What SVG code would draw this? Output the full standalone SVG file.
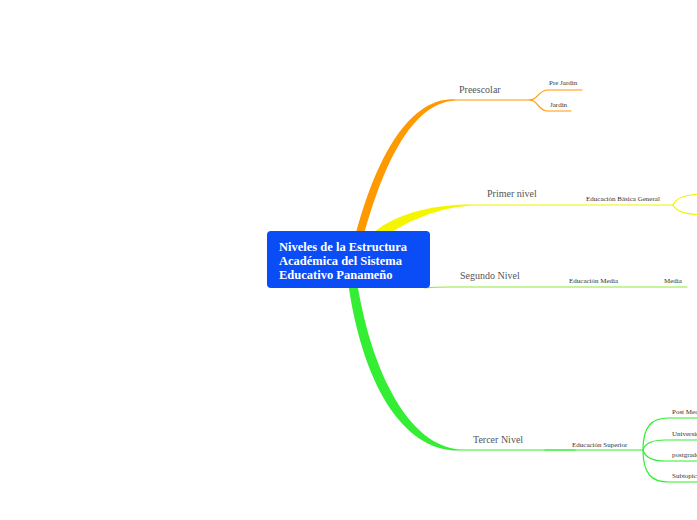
<svg xmlns="http://www.w3.org/2000/svg" width="697" height="520" viewBox="0 0 697 520">
<style>
.lvl{font-family:"Liberation Serif","Times New Roman",serif;font-size:10px;fill:#555}
.sub{font-family:"Liberation Serif","Times New Roman",serif;font-size:7px;fill:#333}
.ln{fill:none;stroke-width:1.2;stroke-linecap:round}
.o{stroke:#ff9a00}.y{stroke:#f2f200}.lg{stroke:#8fe83a}.g{stroke:#33ee33}
.ctr{font-family:"Liberation Serif","Times New Roman",serif;font-size:12.5px;font-weight:bold;fill:#fff}
</style>
<rect width="697" height="520" fill="#fff"/>
<g id="connectors">
  <path d="M349,262 C371,162 408,97 455,99.4 L455,100.6 C412,103 380,165 357,262 Z" fill="#ff9900"/>
  <path class="ln o" d="M455,100 H530"/>
  <path class="ln o" d="M530,100 C538,100 538,90 548,90 H582"/>
  <path class="ln o" d="M530,100 C538,100 538,111 548,111 H571"/>
  <path d="M378,242 C405,221 440,206.4 476,205.6 L476,204.4 C438,204 400,211 374,232 Z" fill="#f5f500"/>
  <path class="ln y" d="M476,205 H673"/>
  <path class="ln y" d="M673,205 C676,198 685,195 697,194.5"/>
  <path class="ln y" d="M673,205 C676,211 685,214 697,214.5"/>
  <path class="ln lg" d="M425,288 C435,287 440,287 450,287 H687"/>
  <path d="M348,282 C362,382 402,452 460,450.6 L460,449.4 C410,446 372,375 357,282 Z" fill="#33ee33"/>
  <path class="ln g" d="M460,450 H643"/>
  <path class="ln g" d="M545,450 H575" stroke-width="2.5"/>
  <path class="ln g" d="M643,450 C643,426 652,418 668,418 H697"/>
  <path class="ln g" d="M643,450 C645,443 652,440 665,440 H697"/>
  <path class="ln g" d="M643,450 C645,457 652,461 665,461 H697"/>
  <path class="ln g" d="M643,450 C643,474 652,482 668,482 H697"/>
</g>
<g id="center">
  <rect x="267" y="231" width="163" height="57" rx="4" fill="#0a4cf5"/>
  <text class="ctr" x="279" y="251">Niveles de la Estructura</text>
  <text class="ctr" x="279" y="265">Académica del Sistema</text>
  <text class="ctr" x="279" y="279">Educativo Panameño</text>
</g>
<g id="preescolar"><text class="lvl" x="459" y="93">Preescolar</text></g>
<g id="pre-jardin"><text class="sub" x="549" y="85">Pre Jardin</text></g>
<g id="jardin"><text class="sub" x="550" y="107">Jardin</text></g>
<g id="primer-nivel"><text class="lvl" x="487" y="197">Primer nivel</text></g>
<g id="educacion-basica"><text class="sub" x="586" y="201">Educación Básica General</text></g>
<g id="segundo-nivel"><text class="lvl" x="460" y="279">Segundo Nivel</text></g>
<g id="educacion-media"><text class="sub" x="569" y="283">Educación Media</text></g>
<g id="media"><text class="sub" x="664" y="283">Media</text></g>
<g id="tercer-nivel"><text class="lvl" x="473" y="443">Tercer Nivel</text></g>
<g id="educacion-superior"><text class="sub" x="572" y="447">Educación Superior</text></g>
<g id="post-media"><text class="sub" x="672" y="414">Post Media</text></g>
<g id="universidad"><text class="sub" x="672" y="436">Universidad</text></g>
<g id="postgrado"><text class="sub" x="672" y="457">postgrado</text></g>
<g id="subtopic"><text class="sub" x="672" y="478">Subtopic</text></g>
</svg>
